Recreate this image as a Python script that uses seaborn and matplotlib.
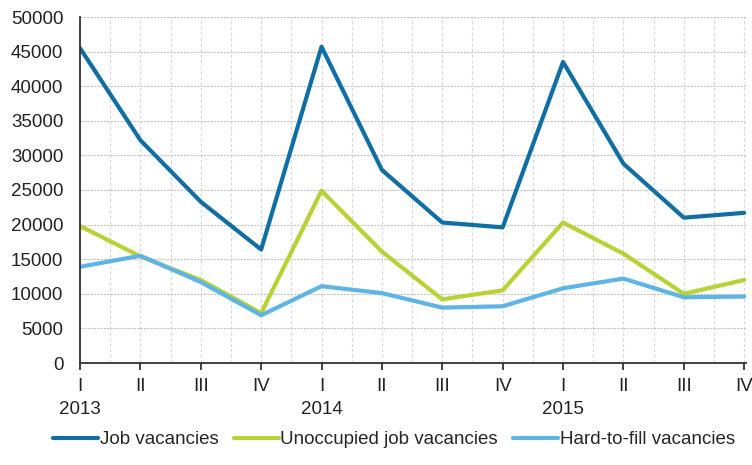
import numpy as np
import pandas as pd
import matplotlib
matplotlib.use("Agg")
import matplotlib.pyplot as plt
import seaborn as sns

QUARTERS = ["I", "II", "III", "IV"] * 3
YEARS = ["2013", "", "", "", "2014", "", "", "", "2015", "", "", ""]
SERIES = ["Job vacancies", "Unoccupied job vacancies", "Hard-to-fill vacancies"]

JOB = [45500, 32200, 23300, 16400, 45700, 27900, 20300, 19600, 43500, 28800, 21000, 21700]
UNOCC = [19800, 15400, 12000, 7200, 24900, 16100, 9200, 10500, 20300, 15800, 10000, 12000]
HARD = [13900, 15500, 11700, 6900, 11100, 10100, 8000, 8200, 10800, 12200, 9500, 9600]

COLORS = ["#0f6ea6", "#b5d334", "#5fb4e6"]

df = pd.DataFrame({
    "t": list(range(len(QUARTERS))) * 3,
    "value": JOB + UNOCC + HARD,
    "series": np.repeat(SERIES, len(QUARTERS)),
})

sns.set_theme(style="white")
plt.rcParams["font.family"] = ["Liberation Sans", "DejaVu Sans"]

fig = plt.figure(figsize=(7.52, 4.65), dpi=100)
ax = fig.add_axes([80 / 752, 1 - 363 / 465, 666 / 752, 346 / 465])

sns.lineplot(data=df, x="t", y="value", hue="series", hue_order=SERIES,
             palette=COLORS, linewidth=3, ax=ax)

handles, labels = ax.get_legend_handles_labels()
ax.get_legend().remove()

ax.set_xlim(0, 11.03)
ax.set_ylim(0, 50000)
ax.set_yticks(range(0, 50001, 5000))
ax.set_xticks(range(len(QUARTERS)))
ax.set_xticklabels([q + ("\n" + y if y else "") for q, y in zip(QUARTERS, YEARS)])
ax.set_xticks(np.arange(0.5, 11, 1), minor=True)
for t in ax.get_xticklabels():
    t.set_linespacing(1.45)

ax.set_xlabel("")
ax.set_ylabel("")

ax.grid(which="both", axis="x", ls=(0, (3, 2)), color="#d6d8e2", lw=0.8)
ax.grid(which="major", axis="y", ls=(0, (2, 1)), color="#c4c4c4", lw=0.8)
ax.set_axisbelow(True)

for s in ["top", "right"]:
    ax.spines[s].set_visible(False)
for s in ["left", "bottom"]:
    ax.spines[s].set_color("#333333")
    ax.spines[s].set_linewidth(1.3)

ax.tick_params(axis="x", which="major", length=5, width=1.3, color="#333333",
               direction="out", bottom=True, labelsize=13.5, pad=6, labelcolor="#222222")
ax.tick_params(axis="x", which="minor", length=0)
ax.tick_params(axis="y", length=0, pad=12, labelsize=13.5, labelcolor="#222222")

fig.legend(handles, labels, loc="lower center", bbox_to_anchor=(0.524, 0.0), ncol=3,
           frameon=False, fontsize=13.5, handlelength=2.4, handletextpad=0.1,
           columnspacing=0.8)

fig.savefig("out.png", dpi=100)
plt.close(fig)
